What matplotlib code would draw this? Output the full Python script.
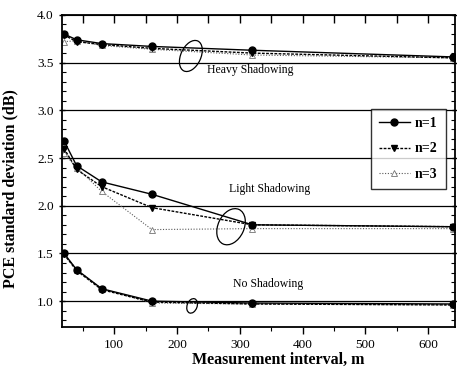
import numpy as np
import matplotlib.pyplot as plt
from matplotlib.patches import Ellipse
from matplotlib.ticker import MultipleLocator
from matplotlib.transforms import ScaledTranslation

# measurement intervals (m)
interval = [20, 40, 80, 160, 320, 640]

# heavy shadowing
heavy_n1 = [3.80, 3.74, 3.70, 3.67, 3.63, 3.56]
heavy_n2 = [3.79, 3.72, 3.69, 3.65, 3.60, 3.55]
heavy_n3 = [3.72, 3.73, 3.68, 3.64, 3.58, 3.55]

# light shadowing
light_n1 = [2.68, 2.42, 2.25, 2.12, 1.80, 1.78]
light_n2 = [2.60, 2.38, 2.20, 1.98, 1.80, 1.78]
light_n3 = [2.55, 2.40, 2.15, 1.75, 1.76, 1.76]

# no shadowing
none_n1 = [1.50, 1.33, 1.13, 1.00, 0.98, 0.97]
none_n2 = [1.49, 1.32, 1.12, 0.99, 0.97, 0.96]
none_n3 = [1.50, 1.33, 1.13, 0.98, 0.97, 0.96]

grid_levels = [1.0, 1.5, 2.0, 2.5, 3.0, 3.5]

plt.rcParams['font.family'] = ['Liberation Serif', 'DejaVu Serif']

fig = plt.figure(figsize=(4.57, 3.74), dpi=100)
ax = fig.add_axes([0.136, 0.126, 0.860, 0.834])

for lv in grid_levels:
    ax.axhline(lv, color='black', lw=0.9, zorder=1)

def draw_group(n1, n2, n3, show):
    names = ['n=1', 'n=2', 'n=3'] if show else ['_nolegend_'] * 3
    ax.plot(interval, n1, color='black', lw=1.0, ls='-', marker='o', ms=5,
            label=names[0], zorder=3)
    ax.plot(interval, n2, color='black', lw=1.0, ls=(0, (2, 1)), marker='v', ms=5,
            label=names[1], zorder=3)
    ax.plot(interval, n3, color='0.35', lw=0.8, ls=(0, (1, 1.5)), marker='^', ms=4,
            mfc='white', mec='0.45', mew=0.6, label=names[2], zorder=2)

draw_group(heavy_n1, heavy_n2, heavy_n3, True)
draw_group(light_n1, light_n2, light_n3, False)
draw_group(none_n1, none_n2, none_n3, False)

# loops marking each group, sized in inches around a data point
def loop(x, y, w, h, ang):
    tr = fig.dpi_scale_trans + ScaledTranslation(x, y, ax.transData)
    ax.add_patch(Ellipse((0, 0), w, h, angle=ang, fill=False, lw=0.9,
                         transform=tr, zorder=4))

loop(222, 3.57, 0.20, 0.33, -25)
loop(286, 1.78, 0.26, 0.38, -25)
loop(224, 0.95, 0.10, 0.15, -20)

ax.text(316, 3.42, 'Heavy Shadowing', fontsize=8.5, ha='center', va='center')
ax.text(348, 2.18, 'Light Shadowing', fontsize=8.5, ha='center', va='center')
ax.text(345, 1.18, 'No Shadowing', fontsize=8.5, ha='center', va='center')

ax.set_xlim(17, 643)
ax.set_ylim(0.73, 4.0)
ax.xaxis.set_major_locator(MultipleLocator(100))
ax.xaxis.set_minor_locator(MultipleLocator(50))
ax.yaxis.set_major_locator(MultipleLocator(0.5))
ax.yaxis.set_minor_locator(MultipleLocator(0.1))
ax.tick_params(axis='x', which='both', direction='out', labelsize=9.5)
ax.tick_params(axis='y', which='both', direction='in', right=True, labelsize=9.5)
ax.tick_params(axis='y', which='major', direction='inout')
ax.tick_params(which='major', length=5, width=1.0)
ax.tick_params(which='minor', length=3, width=0.8)
ax.yaxis.set_major_formatter(plt.FormatStrFormatter('%.1f'))
for s in ax.spines.values():
    s.set_linewidth(1.3)

# top edge ticks point inward
top = ax.secondary_xaxis('top')
top.xaxis.set_major_locator(MultipleLocator(50))
top.tick_params(direction='in', length=6, width=1.0, labeltop=False)

ax.set_xlabel('Measurement interval, m', fontsize=11.5, fontweight='bold')
ax.set_ylabel('PCE standard deviation (dB)', fontsize=11.5, fontweight='bold')
ax.xaxis.set_label_coords(0.55, -0.08)
ax.yaxis.set_label_coords(-0.112, 0.445)

leg = ax.legend(loc='upper left', bbox_to_anchor=(0.785, 0.70), fontsize=10,
                frameon=True, fancybox=False, edgecolor='black', handlelength=2.2,
                handletextpad=0.4, borderpad=0.6, labelspacing=0.9, borderaxespad=0)
leg.get_frame().set_linewidth(1.0)
for t in leg.get_texts():
    t.set_fontweight('bold')

fig.savefig('out.png', dpi=100)
